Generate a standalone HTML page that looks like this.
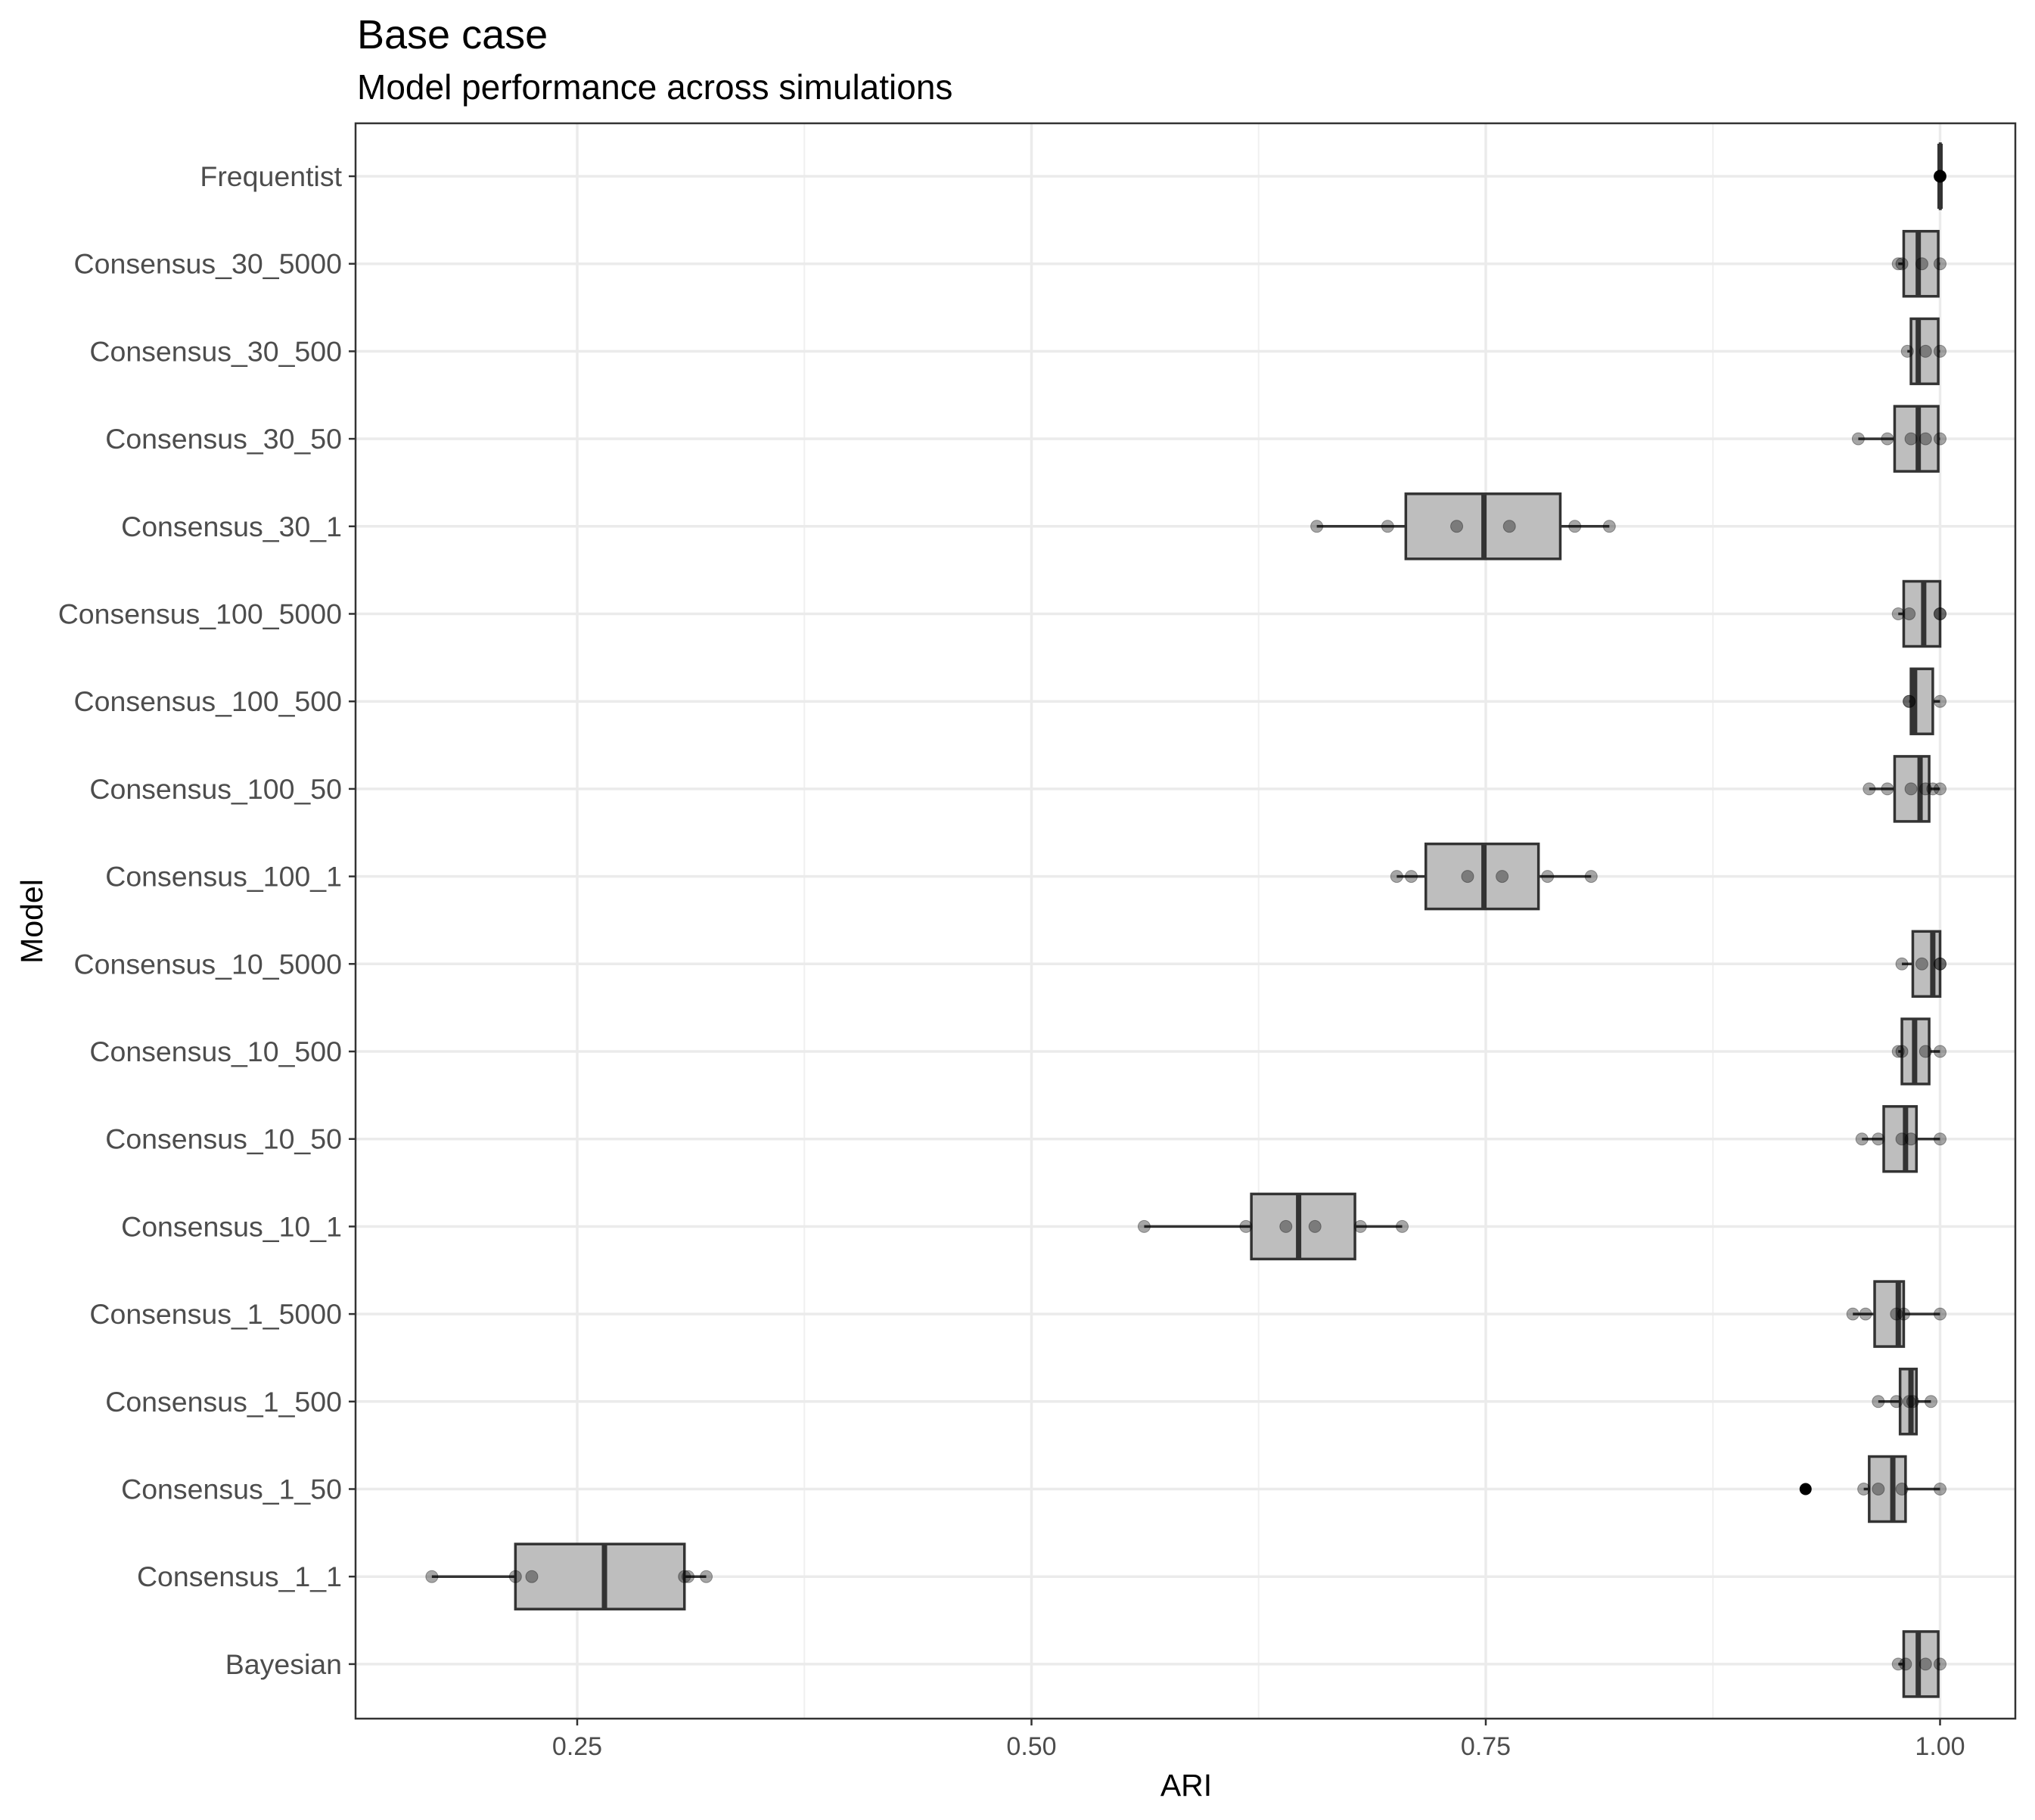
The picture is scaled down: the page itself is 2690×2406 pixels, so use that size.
<!DOCTYPE html>
<html><head><meta charset="utf-8"><style>
html,body{margin:0;padding:0;background:#fff;}
svg{display:block;font-family:"Liberation Sans",Arial,sans-serif;}
</style></head><body>
<svg id="chart" width="2690" height="2406" viewBox="0 0 2690 2406" xmlns="http://www.w3.org/2000/svg">
<rect x="0" y="0" width="2690" height="2406" fill="#fff"/>
<text x="472" y="64" font-size="54" fill="#000">Base case</text>
<text x="472" y="131" font-size="46" fill="#000">Model performance across simulations</text>
<g id="grid"></g><g id="marks"></g><g id="axes"></g>
<rect x="470" y="163" width="2194" height="2109" fill="none" stroke="#333" stroke-width="2.5"/>
<text x="1568" y="2374" font-size="41" text-anchor="middle" fill="#000">ARI</text>
<text x="0" y="0" font-size="41" text-anchor="middle" fill="#000" transform="translate(56,1218) rotate(-90)">Model</text>
</svg>
<script>
const categories = ["Frequentist","Consensus_30_5000","Consensus_30_500","Consensus_30_50","Consensus_30_1","Consensus_100_5000","Consensus_100_500","Consensus_100_50","Consensus_100_1","Consensus_10_5000","Consensus_10_500","Consensus_10_50","Consensus_10_1","Consensus_1_5000","Consensus_1_500","Consensus_1_50","Consensus_1_1","Bayesian"];
const lowerWhisker = [1.0,0.977,0.982,0.955,0.657,0.977,0.983,0.961,0.701,0.979,0.977,0.957,0.562,0.952,0.966,0.958,0.170,0.977];
const q1 = [1.0,0.980,0.984,0.975,0.706,0.980,0.984,0.975,0.717,0.985,0.979,0.969,0.621,0.964,0.978,0.961,0.216,0.980];
const median = [1.0,0.988,0.988,0.988,0.749,0.991,0.986,0.989,0.749,0.996,0.986,0.981,0.647,0.977,0.984,0.974,0.265,0.988];
const q3 = [1.0,0.999,0.999,0.999,0.791,1.0,0.996,0.994,0.779,1.0,0.994,0.987,0.678,0.980,0.987,0.981,0.309,0.999];
const upperWhisker = [1.0,1.0,1.0,1.0,0.818,1.0,1.0,1.0,0.808,1.0,1.0,1.0,0.704,1.0,0.995,1.0,0.321,1.0];
const points = [[1.0,1.0,1.0],[0.977,0.979,0.990,1.0],[0.982,0.992,1.0],[0.955,0.971,0.984,0.992,1.0],[0.657,0.696,0.734,0.763,0.799,0.818],[0.977,0.983,1.0,1.0],[0.983,0.983,1.0],[0.961,0.971,0.984,0.992,0.996,1.0],[0.701,0.709,0.740,0.759,0.784,0.808],[0.979,0.990,1.0,1.0],[0.977,0.979,0.992,1.0],[0.957,0.966,0.979,0.984,1.0],[0.562,0.618,0.640,0.656,0.681,0.704],[0.952,0.959,0.976,0.980,1.0],[0.966,0.976,0.983,0.985,0.995],[0.958,0.966,0.979,1.0],[0.170,0.216,0.225,0.309,0.311,0.321],[0.977,0.981,0.992,1.0]];
const outliers = [[1.0],[],[],[],[],[],[],[],[],[],[],[],[],[],[],[0.926],[],[]];
const xTicks = [0.25,0.50,0.75,1.00];
const xTickLabels = ["0.25","0.50","0.75","1.00"];
const xMinor = [0.375,0.625,0.875];

const NS="http://www.w3.org/2000/svg";
const X = v => 763 + (v-0.25)*2402;
const Y = i => 233 + i*115.7;
function mk(parent,tag,attrs){const e=document.createElementNS(NS,tag);for(const k in attrs)e.setAttribute(k,attrs[k]);parent.appendChild(e);return e;}
const grid=document.getElementById('grid'),marks=document.getElementById('marks'),axes=document.getElementById('axes');
xMinor.forEach(v=>{const l=mk(grid,'line',{x1:X(v),x2:X(v),y1:163,y2:2272,stroke:'#f0f0f0','stroke-width':2});

});
xTicks.forEach((v,i)=>{const l=mk(grid,'line',{x1:X(v),x2:X(v),y1:163,y2:2272,stroke:'#ebebeb','stroke-width':3.5});


const t=mk(axes,'line',{x1:X(v),x2:X(v),y1:2272,y2:2281,stroke:'#333','stroke-width':2.5});


const tx=mk(axes,'text',{x:X(v),y:2320,'font-size':34,'text-anchor':'middle',fill:'#4d4d4d'});tx.textContent=xTickLabels[i];

});
categories.forEach((c,i)=>{const y=Y(i);
const g=mk(grid,'line',{x1:470,x2:2664,y1:y,y2:y,stroke:'#ebebeb','stroke-width':3.5});


const t=mk(axes,'line',{x1:461,x2:470,y1:y,y2:y,stroke:'#333','stroke-width':2.5});


const tx=mk(axes,'text',{x:452,y:y+13,'font-size':37.5,'text-anchor':'end',fill:'#4d4d4d'});tx.textContent=c;


const grp=mk(marks,'g',{});


const h=43;
mk(grp,'line',{x1:X(lowerWhisker[i]),x2:X(q1[i]),y1:y,y2:y,stroke:'#333','stroke-width':3.5});
mk(grp,'line',{x1:X(q3[i]),x2:X(upperWhisker[i]),y1:y,y2:y,stroke:'#333','stroke-width':3.5});
mk(grp,'rect',{x:X(q1[i]),y:y-h,width:Math.max(X(q3[i])-X(q1[i]),0.5),height:2*h,fill:'#bebebe',stroke:'#333','stroke-width':3.5});
mk(grp,'line',{x1:X(median[i]),x2:X(median[i]),y1:y-h,y2:y+h,stroke:'#333','stroke-width':7});
outliers[i].forEach(v=>{const o=mk(grp,'circle',{cx:X(v),cy:y,r:8,fill:'#000'});

});
points[i].forEach(v=>{const p=mk(grp,'circle',{cx:X(v),cy:y,r:8,fill:'#000','fill-opacity':0.35,stroke:'#000','stroke-opacity':0.35,'stroke-width':1});

});
});
</script>
</body></html>
